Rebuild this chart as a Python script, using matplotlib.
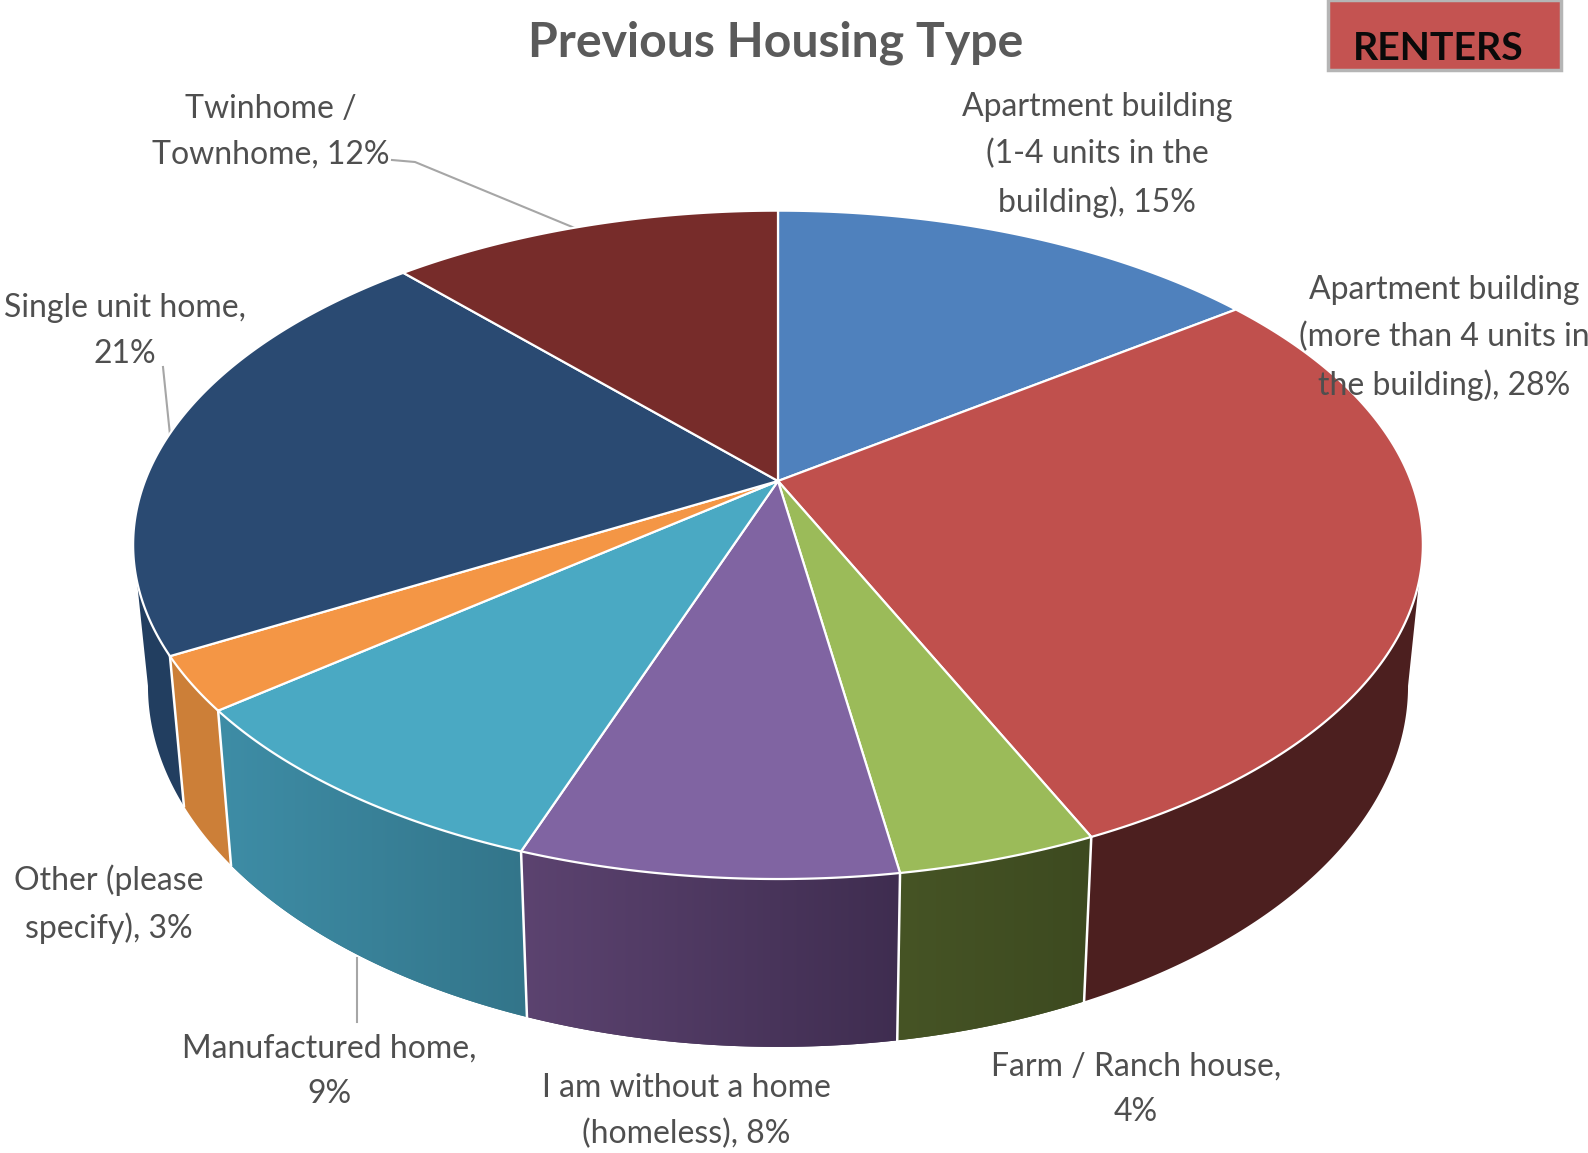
import numpy as np
import matplotlib
matplotlib.use("Agg")
import matplotlib.pyplot as plt
from matplotlib.colors import LinearSegmentedColormap
from matplotlib.patches import Polygon, Rectangle

title = "Previous Housing Type"
badge = "RENTERS"

labels = [
    "Apartment building\n(1-4 units in the\nbuilding), 15%",
    "Apartment building\n(more than 4 units in\nthe building), 28%",
    "Farm / Ranch house,\n4%",
    "I am without a home\n(homeless), 8%",
    "Manufactured home,\n9%",
    "Other (please\nspecify), 3%",
    "Single unit home,\n21%",
    "Twinhome /\nTownhome, 12%",
]
# unrounded shares, labels show them rounded
values = [14.9, 28.4, 4.2, 7.9, 8.8, 2.6, 21.4, 11.8]
top_colors = ["#4f81bd", "#c0504d", "#9bbb59", "#8064a2", "#4aa9c3", "#f49645", "#2a4a72", "#772c2a"]
side_left = ["#3a6291", "#4c1f1f", "#465425", "#5c4370", "#3e8da6", "#cc7f38", "#223e60", "#571f1f"]
side_right = ["#3a6291", "#4c1f1f", "#3d4a20", "#3f2d50", "#33758a", "#cc7f38", "#223e60", "#571f1f"]
label_x = [1097, 1444, 1136, 686, 329, 109, 125, 271]
label_y = [155, 338, 1089, 1111, 1071, 904, 331, 132]

# pie geometry in pixels, the camera looks down so the rim is a perspective circle
CX, CY = 778, 481
RX, RY, PERSP = 633, 322, 0.191
LOW_X, LOW_Y, LOW_CY = 0.977, 1.08, 617
# the side wall is only visible between the two widest points of the rim
FRONT_A = np.pi / 2 + np.arcsin(PERSP)
FRONT_B = 2 * np.pi - FRONT_A


def rim(theta):
    """Top disc point for an angle clockwise from 12 o'clock (radians)."""
    c, s = np.sin(theta), -np.cos(theta)
    d = 1 - PERSP * s
    return RX * c / d, RY * s / d


def top_points(a0, a1):
    t = np.linspace(a0, a1, 200)
    x, y = rim(t)
    return np.r_[CX, CX + x], np.r_[CY, CY + y]


def side_points(a0, a1):
    t = np.linspace(a0, a1, 200)
    x, y = rim(t)
    xt, yt = CX + x, CY + y
    xb, yb = CX + LOW_X * x, LOW_CY + LOW_Y * y
    return np.r_[xt, xb[::-1]], np.r_[yt, yb[::-1]]


fig = plt.figure(figsize=(15.88, 11.53), dpi=100)
ax = fig.add_axes([0, 0, 1, 1])
ax.set_xlim(0, 1588)
ax.set_ylim(1153, 0)
ax.axis("off")

edges = np.radians(np.r_[0, np.cumsum(values)] * 3.6)

for i in range(len(values)):
    a0, a1 = max(edges[i], FRONT_A), min(edges[i + 1], FRONT_B)
    if a0 >= a1:
        continue
    xs, ys = side_points(a0, a1)
    poly = Polygon(np.c_[xs, ys], closed=True, fc=side_right[i], ec="none", zorder=1)
    ax.add_patch(poly)
    if side_left[i] != side_right[i]:
        cmap = LinearSegmentedColormap.from_list("side", [side_left[i], side_right[i]])
        im = ax.imshow(np.linspace(0, 1, 256)[None, :], cmap=cmap, aspect="auto", zorder=2,
                       extent=[xs.min(), xs.max(), ys.max(), ys.min()])
        im.set_clip_path(poly)
ax.set_xlim(0, 1588)
ax.set_ylim(1153, 0)

# white seams between the side faces
for a in edges[:-1]:
    if FRONT_A < a < FRONT_B:
        x, y = rim(a)
        ax.plot([CX + x, CX + LOW_X * x], [CY + y, LOW_CY + LOW_Y * y], color="white", lw=1.8, zorder=3)

for i in range(len(values)):
    xs, ys = top_points(edges[i], edges[i + 1])
    ax.add_patch(Polygon(np.c_[xs, ys], closed=True, fc=top_colors[i], ec="white", lw=1.6,
                         joinstyle="round", zorder=4))

# leader lines
ax.plot([392, 415, 582], [160, 162, 231], color="#a6a6a6", lw=1.5, zorder=3)
ax.plot([163, 170], [367, 435], color="#a6a6a6", lw=1.5, zorder=3)
ax.plot([357, 357], [958, 1022], color="#a6a6a6", lw=1.5, zorder=3)

font = ["Lato", "DejaVu Sans"]
for lab, x, y in zip(labels, label_x, label_y):
    ax.text(x, y, lab, ha="center", va="center", ma="center", fontsize=23, color="#4f4f4f",
            family=font, linespacing=1.66, zorder=6)

ax.text(776, 43, title, ha="center", va="center", fontsize=34.7, fontweight="bold",
        color="#5a5a5a", family=font, zorder=6)

ax.add_patch(Rectangle((1328, 0), 233, 70, fc="#c45351", ec="#b5b5b5", lw=2.5, zorder=5))
ax.text(1438, 48, badge, ha="center", va="center", fontsize=28.3, fontweight="bold",
        color="#0a0a0a", family=font, zorder=6)

fig.savefig("out.png", dpi=100)
